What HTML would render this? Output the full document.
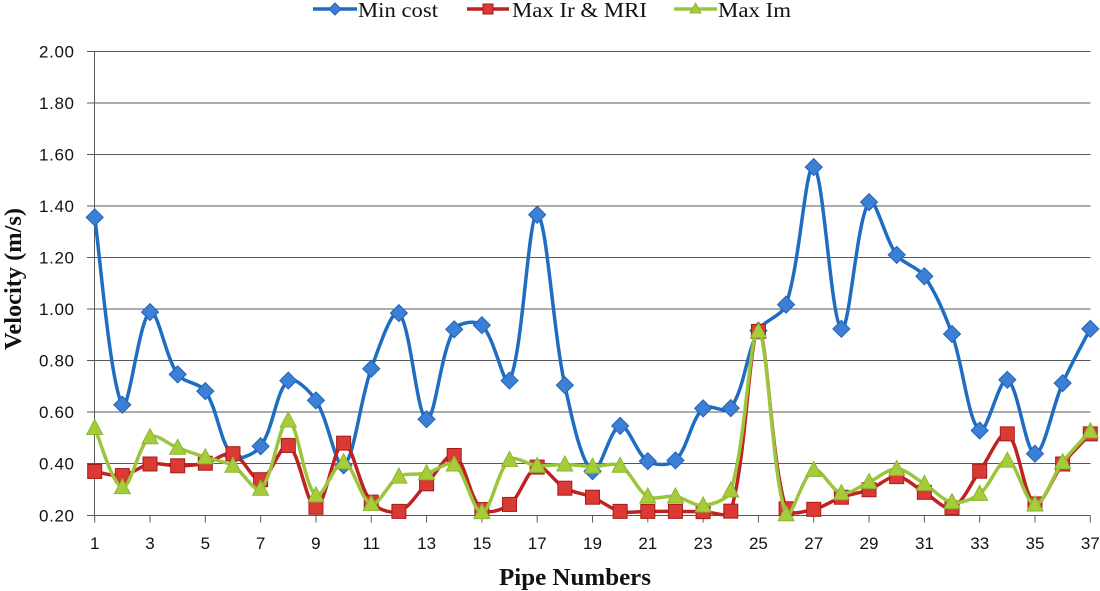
<!DOCTYPE html>
<html><head><meta charset="utf-8">
<style>
html,body{margin:0;padding:0;background:#fff;}
svg{display:block;}
.yl{font-family:"Liberation Sans",Arial,sans-serif;font-size:17px;fill:#111;text-anchor:end;}
.xl{font-family:"Liberation Sans",Arial,sans-serif;font-size:17px;fill:#111;text-anchor:middle;}
.lg{font-family:"Liberation Serif","Times New Roman",serif;font-size:21px;fill:#111;}
.tt{font-family:"Liberation Serif","Times New Roman",serif;font-size:24px;font-weight:bold;fill:#111;}
</style></head><body>
<svg id="c" width="1100" height="591" viewBox="0 0 1100 591" xmlns="http://www.w3.org/2000/svg">
<g stroke="#595959" stroke-width="1" fill="none">
<line x1="87" y1="51.5" x2="1090.5" y2="51.5"/>
<line x1="87" y1="103" x2="1090.5" y2="103"/>
<line x1="87" y1="154.5" x2="1090.5" y2="154.5"/>
<line x1="87" y1="206" x2="1090.5" y2="206"/>
<line x1="87" y1="257.5" x2="1090.5" y2="257.5"/>
<line x1="87" y1="309" x2="1090.5" y2="309"/>
<line x1="87" y1="360.5" x2="1090.5" y2="360.5"/>
<line x1="87" y1="412" x2="1090.5" y2="412"/>
<line x1="87" y1="463.5" x2="1090.5" y2="463.5"/>
<line x1="87" y1="515.5" x2="1090.5" y2="515.5"/>
<line x1="94.5" y1="51.5" x2="94.5" y2="515.5"/>
<g id="xt"></g>
</g>
<g>
<text class="yl" x="74" y="57.5" textLength="35">2.00</text>
<text class="yl" x="74" y="109" textLength="35">1.80</text>
<text class="yl" x="74" y="160.5" textLength="35">1.60</text>
<text class="yl" x="74" y="212" textLength="35">1.40</text>
<text class="yl" x="74" y="263.5" textLength="35">1.20</text>
<text class="yl" x="74" y="315" textLength="35">1.00</text>
<text class="yl" x="74" y="366.5" textLength="35">0.80</text>
<text class="yl" x="74" y="418" textLength="35">0.60</text>
<text class="yl" x="74" y="469.5" textLength="35">0.40</text>
<text class="yl" x="74" y="521.5" textLength="35">0.20</text>
</g>
<g>
<text class="xl" x="94.7" y="549">1</text>
<text class="xl" x="150" y="549">3</text>
<text class="xl" x="205.3" y="549">5</text>
<text class="xl" x="260.6" y="549">7</text>
<text class="xl" x="315.9" y="549">9</text>
<text class="xl" x="371.3" y="549">11</text>
<text class="xl" x="426.6" y="549">13</text>
<text class="xl" x="481.9" y="549">15</text>
<text class="xl" x="537.2" y="549">17</text>
<text class="xl" x="592.5" y="549">19</text>
<text class="xl" x="647.8" y="549">21</text>
<text class="xl" x="703.1" y="549">23</text>
<text class="xl" x="758.4" y="549">25</text>
<text class="xl" x="813.7" y="549">27</text>
<text class="xl" x="869" y="549">29</text>
<text class="xl" x="924.4" y="549">31</text>
<text class="xl" x="979.7" y="549">33</text>
<text class="xl" x="1035" y="549">35</text>
<text class="xl" x="1090.3" y="549">37</text>
</g>
<text class="tt" x="499" y="585" textLength="152" lengthAdjust="spacingAndGlyphs">Pipe Numbers</text>
<text class="tt" transform="translate(21,350) rotate(-90)" x="0" y="0" textLength="142" lengthAdjust="spacingAndGlyphs">Velocity (m/s)</text>
<!-- legend -->
<g>
<line x1="313" y1="9" x2="357" y2="9" stroke="#1F6DC2" stroke-width="3.5"/>
<polygon points="335,3 341,9 335,15 329,9" fill="#3B80D6" stroke="#2462B4" stroke-width="1"/>
<text class="lg" x="358" y="17" textLength="80" lengthAdjust="spacingAndGlyphs">Min cost</text>
<line x1="467" y1="9" x2="509" y2="9" stroke="#C0221F" stroke-width="3.5"/>
<rect x="483" y="4" width="10" height="10" fill="#DB3934" stroke="#A61C1A" stroke-width="1"/>
<text class="lg" x="512" y="17" textLength="135" lengthAdjust="spacingAndGlyphs">Max Ir &amp; MRI</text>
<line x1="674" y1="9" x2="717" y2="9" stroke="#9BC53C" stroke-width="3.5"/>
<polygon points="695.5,3 701,13 690,13" fill="#A5CD3A" stroke="#8DB52F" stroke-width="1"/>
<text class="lg" x="718" y="17" textLength="73" lengthAdjust="spacingAndGlyphs">Max Im</text>
</g>
<g id="series"></g>
</svg>
<script>
(function(){
var NS="http://www.w3.org/2000/svg";
var X=function(n){return 94.7+(n-1)*27.655;};
var Y=function(v){return 515.5-(v-0.2)*257.5;};
var blue=[1.358,0.63,0.99,0.748,0.683,0.43,0.469,0.724,0.647,0.395,0.77,0.986,0.574,0.923,0.939,0.724,1.368,0.706,0.372,0.548,0.411,0.414,0.616,0.617,0.918,1.019,1.553,0.925,1.417,1.212,1.129,0.905,0.53,0.727,0.44,0.714,0.925];
var red=[0.371,0.355,0.40,0.393,0.403,0.44,0.339,0.472,0.232,0.481,0.252,0.216,0.323,0.433,0.223,0.243,0.388,0.306,0.271,0.216,0.216,0.216,0.215,0.217,0.915,0.226,0.224,0.271,0.30,0.351,0.29,0.23,0.372,0.517,0.245,0.40,0.517];
var green=[0.54,0.31,0.504,0.463,0.426,0.393,0.304,0.569,0.278,0.407,0.245,0.351,0.364,0.398,0.213,0.416,0.393,0.398,0.39,0.393,0.274,0.274,0.239,0.297,0.915,0.205,0.377,0.287,0.33,0.381,0.323,0.252,0.284,0.413,0.243,0.407,0.527];
var xt=document.getElementById('xt');
for(var n=1;n<=37;n+=2){var l=document.createElementNS(NS,'line');var x=X(n);l.setAttribute('x1',x);l.setAttribute('x2',x);l.setAttribute('y1',515.5);l.setAttribute('y2',522.5);xt.appendChild(l);}
function f(a){return a[0].toFixed(2)+','+a[1].toFixed(2);}
function dist(a,b){return Math.sqrt((a[0]-b[0])*(a[0]-b[0])+(a[1]-b[1])*(a[1]-b[1]));}
function path(vals){
  var p=vals.map(function(v,i){return [X(i+1),Y(v)];});
  var d='M'+f(p[0]);
  for(var i=0;i<p.length-1;i++){
    var p0=p[i-1]||p[i],p1=p[i],p2=p[i+1],p3=p[i+2]||p[i+1];
    var d01=dist(p0,p1),d12=dist(p1,p2),d23=dist(p2,p3);
    var k1=(d01+d12)>0? d12/(d01+d12)/1.5 : 0;
    var k2=(d12+d23)>0? d12/(d12+d23)/1.5 : 0;
    if(!p[i-1]) k1=1/3;
    if(!p[i+2]) k2=1/3;
    var c1=[p1[0]+(p2[0]-p0[0])*k1*0.5,p1[1]+(p2[1]-p0[1])*k1*0.5];
    var c2=[p2[0]-(p3[0]-p1[0])*k2*0.5,p2[1]-(p3[1]-p1[1])*k2*0.5];
    d+=' C'+f(c1)+' '+f(c2)+' '+f(p2);
  }
  return d;
}
var g=document.getElementById('series');
function add(vals,color,fill,stroke,type){
  var pa=document.createElementNS(NS,'path');
  pa.setAttribute('d',path(vals));pa.setAttribute('fill','none');
  pa.setAttribute('stroke',color);pa.setAttribute('stroke-width','3.5');
  pa.setAttribute('stroke-linejoin','round');
  g.appendChild(pa);
  vals.forEach(function(v,i){
    var x=X(i+1),y=Y(v),m;
    if(type==='d'){m=document.createElementNS(NS,'polygon');
      m.setAttribute('points',[x,y-8.5,x+8.5,y,x,y+8.5,x-8.5,y].join(' '));}
    else if(type==='s'){m=document.createElementNS(NS,'rect');
      m.setAttribute('x',x-7);m.setAttribute('y',y-7);m.setAttribute('width',14);m.setAttribute('height',14);}
    else {m=document.createElementNS(NS,'polygon');
      m.setAttribute('points',[x,y-8.5,x+8,y+6.5,x-8,y+6.5].join(' '));}
    m.setAttribute('fill',fill);m.setAttribute('stroke',stroke);m.setAttribute('stroke-width','1');
    g.appendChild(m);
  });
}
add(blue,'#1F6DC2','#3B80D6','#2462B4','d');
add(red,'#C0221F','#DB3934','#A61C1A','s');
add(green,'#9BC53C','#A5CD3A','#8DB52F','t');
})();
</script>
</body></html>
